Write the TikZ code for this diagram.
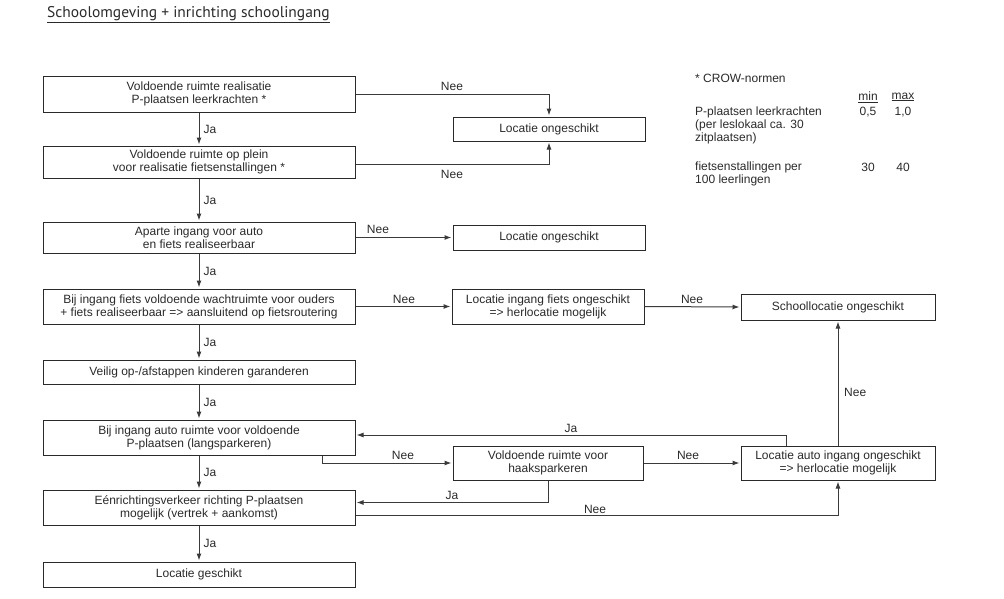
\documentclass[tikz,border=0pt]{standalone}
\usepackage{fontspec}
\setmainfont{Liberation Sans}
\newfontfamily\titlefont{PT Sans}
\usetikzlibrary{arrows.meta}
\definecolor{ink}{HTML}{2A2A2A}
\definecolor{wire}{HTML}{3A3A3A}
\begin{document}
\begin{tikzpicture}[x=1pt,y=-1pt,
  box/.style={draw=ink,line width=1pt,align=center,inner sep=1pt,text=ink,
    font=\fontsize{12}{13}\selectfont},
  arr/.style={draw=wire,line width=1pt,-{Latex[length=7pt,width=5pt]},shorten >=1pt},
  lbl/.style={font=\fontsize{12}{13}\selectfont,inner sep=0pt,text=ink},
  note/.style={font=\fontsize{12}{13}\selectfont,inner sep=0pt,anchor=west,align=left,text=ink}]
\useasboundingbox (0,0) rectangle (1004,598);
\node[anchor=west,inner sep=0pt,text=ink,font=\titlefont\fontsize{15.5}{17}\selectfont] (title) at (47,15) {\underline{Schoolomgeving + inrichting schoolingang}};

% main column
\node[box,minimum width=312pt,minimum height=36pt] (b1) at (199,94) {Voldoende ruimte realisatie\\P-plaatsen leerkrachten *};
\node[box,minimum width=312pt,minimum height=32pt] (b2) at (199,162) {Voldoende ruimte op plein\\voor realisatie fietsenstallingen *};
\node[box,minimum width=312pt,minimum height=31pt] (b3) at (199,237.5) {Aparte ingang voor auto\\en fiets realiseerbaar};
\node[box,minimum width=312pt,minimum height=35pt] (b4) at (199,306.5) {Bij ingang fiets voldoende wachtruimte voor ouders\\+ fiets realiseerbaar => aansluitend op fietsroutering};
\node[box,minimum width=312pt,minimum height=24pt] (b5) at (199,372) {Veilig op-/afstappen kinderen garanderen};
\node[box,minimum width=312pt,minimum height=35pt] (b6) at (199,437.5) {Bij ingang auto ruimte voor voldoende\\P-plaatsen (langsparkeren)};
\node[box,minimum width=312pt,minimum height=35pt] (b7) at (199,507.5) {Eénrichtingsverkeer richting P-plaatsen\\mogelijk (vertrek + aankomst)};
\node[box,minimum width=312pt,minimum height=25pt] (b8) at (199,574.5) {Locatie geschikt};

% side boxes
\node[box,minimum width=192pt,minimum height=24pt] (lo1) at (549,129) {Locatie ongeschikt};
\node[box,minimum width=192pt,minimum height=25pt] (lo2) at (549,237.5) {Locatie ongeschikt};
\node[box,minimum width=192pt,minimum height=35pt] (lif) at (548,306.5) {Locatie ingang fiets ongeschikt\\=> herlocatie mogelijk};
\node[box,minimum width=194pt,minimum height=26pt] (sch) at (838,307) {Schoollocatie ongeschikt};
\node[box,minimum width=190pt,minimum height=34pt] (hk) at (548,463) {Voldoende ruimte voor\\haaksparkeren};
\node[box,minimum width=194pt,minimum height=34pt] (la) at (838,463) {Locatie auto ingang ongeschikt\\=> herlocatie mogelijk};

% Ja arrows in main column
\draw[arr] (b1) -- (b2) node[lbl,midway,anchor=west,xshift=4pt] {Ja};
\draw[arr] (b2) -- (b3) node[lbl,midway,anchor=west,xshift=4pt] {Ja};
\draw[arr] (b3) -- (b4) node[lbl,midway,anchor=west,xshift=4pt] {Ja};
\draw[arr] (b4) -- (b5) node[lbl,midway,anchor=west,xshift=4pt] {Ja};
\draw[arr] (b5) -- (b6) node[lbl,midway,anchor=west,xshift=4pt] {Ja};
\draw[arr] (b6) -- (b7) node[lbl,midway,anchor=west,xshift=4pt] {Ja};
\draw[arr] (b7) -- (b8) node[lbl,midway,anchor=west,xshift=4pt] {Ja};

% Nee arrows
\draw[arr] (b1.east) -| (lo1.north);
\node[lbl] (n1) at (452,86) {Nee};
\draw[arr] ([yshift=-2pt]b2.east) -| (lo1.south);
\node[lbl] (n2) at (452,174) {Nee};
\draw[arr] (b3.east) -- (lo2.west);
\node[lbl] (n3) at (378,229) {Nee};
\draw[arr] (b4.east) -- (lif.west);
\node[lbl] (n4) at (404,299) {Nee};
\draw[arr] (lif.east) -- (sch.west);
\node[lbl] (n5) at (692,299) {Nee};

\draw[arr] ([xshift=-33pt]b6.south east) |- (hk.west);
\node[lbl] (n6) at (403,455) {Nee};
\draw[arr] (hk.east) -- (la.west);
\node[lbl] (n7) at (688,455) {Nee};
\draw[arr] (hk.south) |- ([yshift=5pt]b7.east);
\node[lbl] (j1) at (452,495) {Ja};
\draw[arr] ([xshift=-52pt]la.north) |- ([yshift=2.5pt]b6.east);
\node[lbl] (j2) at (571,428) {Ja};
\draw[arr] ([yshift=-8pt]b7.east) -| (la.south);
\node[lbl] (n8) at (595,509) {Nee};
\draw[arr] (la.north) -- (sch.south);
\node[lbl,anchor=west] (n9) at (844,392) {Nee};

% notes
\node[note] (crow) at (695,78) {* CROW-normen};
\node[note] (pp) at (695,125.5) {P-plaatsen leerkrachten\\(per leslokaal ca. 30\\zitplaatsen)};
\node[note] (fs) at (695,173.5) {fietsenstallingen per\\100 leerlingen};
\node[lbl] (mn) at (868,97) {\underline{min}};
\node[lbl] (mx) at (903,97) {\underline{max}};
\node[lbl] (v1) at (868,112) {0,5};
\node[lbl] (v2) at (903,112) {1,0};
\node[lbl] (v3) at (868,167) {30};
\node[lbl] (v4) at (903,167) {40};
\end{tikzpicture}
\end{document}
